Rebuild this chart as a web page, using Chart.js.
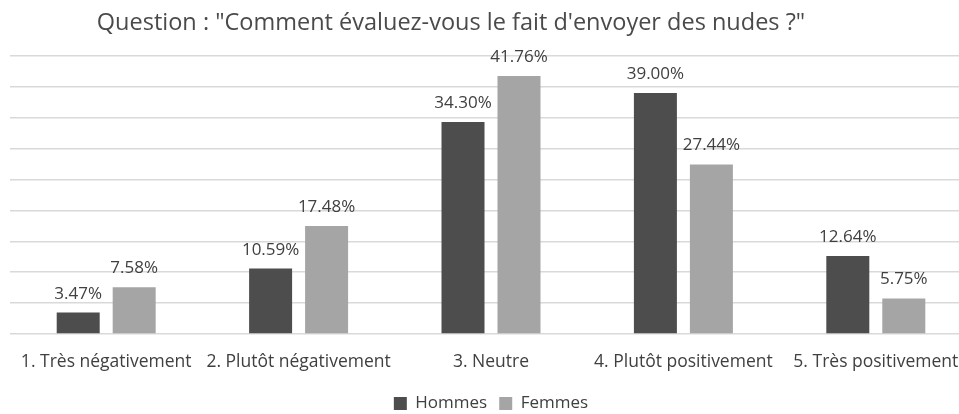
<!DOCTYPE html>
<html>
<head>
<meta charset="utf-8">
<script src="https://cdn.jsdelivr.net/npm/chart.js@4"></script>
<style>
  html, body { margin: 0; padding: 0; background: #fff; }
  #wrap { width: 959px; height: 414px; overflow: hidden; }
</style>
</head>
<body>
<!-- the plot runs a little past the right edge of the picture, so the canvas is wider than the frame -->
<div id="wrap"><canvas id="chart" width="975" height="414"></canvas></div>
<script>
const categories = ['1. Très négativement', '2. Plutôt négativement', '3. Neutre', '4. Plutôt positivement', '5. Très positivement'];
const hommes = [3.47, 10.59, 34.30, 39.00, 12.64];
const femmes = [7.58, 17.48, 41.76, 27.44, 5.75];
const seriesNames = ['Hommes', 'Femmes'];
const titleText = 'Question : "Comment évaluez-vous le fait d\'envoyer des nudes ?"';

const FONT = "'Open Sans', sans-serif";

// percentage above each bar
const barLabels = {
    id: 'barLabels',
    afterDatasetsDraw(chart) {
        const ctx = chart.ctx;
        ctx.save();
        ctx.font = `17px ${FONT}`;
        ctx.fillStyle = '#404040';
        ctx.textAlign = 'center';
        ctx.textBaseline = 'alphabetic';
        chart.data.datasets.forEach((ds, i) => {
            chart.getDatasetMeta(i).data.forEach((bar, j) => {
                ctx.fillText(ds.data[j].toFixed(2) + '%', bar.x, bar.y - 14);
            });
        });
        ctx.restore();
    }
};

// title sits a bit left of centre in the original
const titleDraw = {
    id: 'titleDraw',
    afterDraw(chart) {
        const ctx = chart.ctx;
        ctx.save();
        ctx.font = `23.5px ${FONT}`;
        ctx.fillStyle = '#4a4a4a';
        ctx.textAlign = 'center';
        ctx.textBaseline = 'alphabetic';
        ctx.fillText(titleText, 451, 30);
        ctx.restore();
    }
};

new Chart(document.getElementById('chart'), {
    type: 'bar',
    data: {
        labels: categories,
        datasets: [
            { label: seriesNames[0], data: hommes, backgroundColor: '#4d4d4d', categoryPercentage: 0.582, barPercentage: 0.768 },
            { label: seriesNames[1], data: femmes, backgroundColor: '#a5a5a5', categoryPercentage: 0.582, barPercentage: 0.768 }
        ]
    },
    options: {
        responsive: false,
        animation: false,
        layout: { padding: { left: 10, right: 3, top: 56, bottom: -8 } },
        scales: {
            x: {
                grid: { display: false },
                border: { display: false },
                ticks: { color: '#404040', font: { family: FONT, size: 17.5 }, padding: 10, maxRotation: 0, autoSkip: false },
                afterFit(scale) { scale.height = 49; }
            },
            y: {
                min: 0,
                max: 45,
                ticks: { display: false, stepSize: 5 },
                grid: { color: '#d9d9d9', lineWidth: 1.5, drawTicks: false },
                border: { display: false }
            }
        },
        plugins: {
            title: { display: false },
            legend: {
                position: 'bottom',
                labels: { color: '#404040', font: { family: FONT, size: 17 }, boxWidth: 13, boxHeight: 13, padding: 12 }
            },
            tooltip: { enabled: false }
        }
    },
    plugins: [barLabels, titleDraw]
});
</script>
</body>
</html>
